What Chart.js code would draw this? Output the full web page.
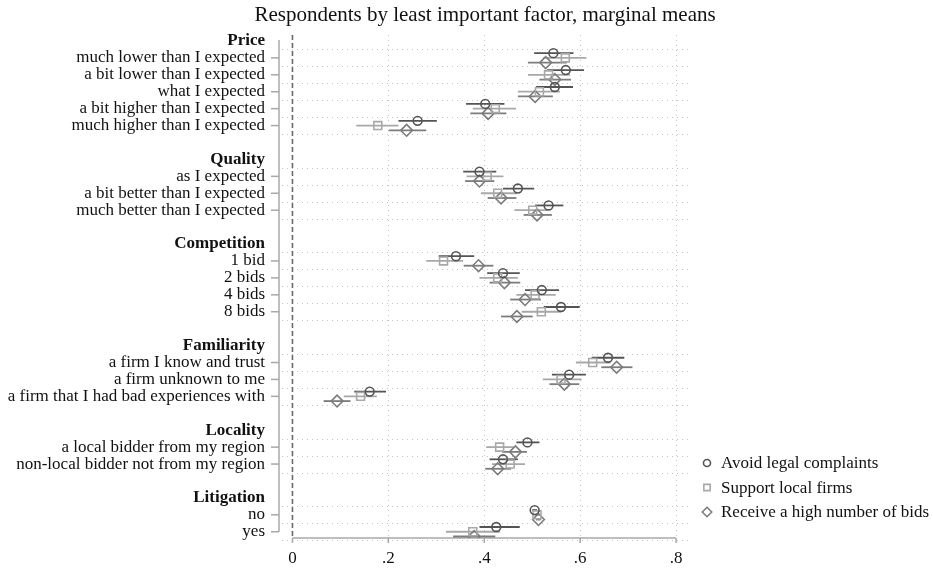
<!DOCTYPE html>
<html>
<head>
<meta charset="utf-8">
<script src="https://cdn.jsdelivr.net/npm/chart.js@4.4.1/dist/chart.umd.min.js"></script>
<style>
  html, body { margin: 0; padding: 0; background: #fff; }
  canvas { display: block; }
</style>
</head>
<body>
<canvas id="chart" width="933" height="568"></canvas>
<script>
// Groups (bold headers) and their levels, top to bottom
const groupNames = ['Price', 'Quality', 'Competition', 'Familiarity', 'Locality', 'Litigation'];
const groupLevels = [
    ['much lower than I expected', 'a bit lower than I expected', 'what I expected',
     'a bit higher than I expected', 'much higher than I expected'],
    ['as I expected', 'a bit better than I expected', 'much better than I expected'],
    ['1 bid', '2 bids', '4 bids', '8 bids'],
    ['a firm I know and trust', 'a firm unknown to me', 'a firm that I had bad experiences with'],
    ['a local bidder from my region', 'non-local bidder not from my region'],
    ['no', 'yes']
];

const seriesNames = ['Avoid legal complaints', 'Support local firms', 'Receive a high number of bids'];

// Marginal means and 95% CI bounds, one entry per level
const legalMean = [0.544, 0.570, 0.547, 0.402, 0.261, 0.390, 0.470, 0.534, 0.341, 0.439, 0.520, 0.560, 0.658, 0.577, 0.161, 0.490, 0.439, 0.505, 0.425];
const legalLo   = [0.504, 0.531, 0.508, 0.362, 0.221, 0.356, 0.439, 0.506, 0.305, 0.406, 0.485, 0.524, 0.624, 0.541, 0.129, 0.467, 0.411, 0.500, 0.390];
const legalHi   = [0.586, 0.608, 0.585, 0.442, 0.301, 0.425, 0.504, 0.565, 0.379, 0.474, 0.556, 0.599, 0.692, 0.612, 0.195, 0.515, 0.470, 0.510, 0.474];

const localMean = [0.569, 0.534, 0.515, 0.423, 0.178, 0.406, 0.428, 0.501, 0.315, 0.428, 0.506, 0.519, 0.626, 0.560, 0.142, 0.432, 0.454, 0.510, 0.376];
const localLo   = [0.523, 0.491, 0.470, 0.376, 0.133, 0.363, 0.393, 0.463, 0.279, 0.390, 0.467, 0.478, 0.591, 0.522, 0.107, 0.404, 0.416, 0.505, 0.320];
const localHi   = [0.613, 0.579, 0.558, 0.466, 0.221, 0.440, 0.468, 0.531, 0.356, 0.470, 0.549, 0.560, 0.663, 0.603, 0.176, 0.461, 0.485, 0.515, 0.433];

const bidsMean  = [0.528, 0.547, 0.506, 0.408, 0.238, 0.390, 0.435, 0.510, 0.388, 0.442, 0.485, 0.468, 0.676, 0.567, 0.093, 0.465, 0.428, 0.513, 0.379];
const bidsLo    = [0.491, 0.515, 0.470, 0.371, 0.201, 0.360, 0.407, 0.482, 0.357, 0.411, 0.454, 0.435, 0.644, 0.536, 0.065, 0.437, 0.402, 0.508, 0.335];
const bidsHi    = [0.572, 0.581, 0.543, 0.446, 0.279, 0.421, 0.467, 0.541, 0.419, 0.475, 0.518, 0.501, 0.709, 0.598, 0.121, 0.489, 0.456, 0.518, 0.423];

const xTicks = [0, 0.2, 0.4, 0.6, 0.8];

const FONT = '"Liberation Serif", "Times New Roman", serif';

// Build the row layout: header row, level rows, blank row between groups
const rowLabels = [];
const headerRows = new Set();
const levelRows = [];
const groupSpans = [];
let r = 0;
groupNames.forEach((name, g) => {
    if (g > 0) { rowLabels[r] = ''; r++; }
    rowLabels[r] = name;
    headerRows.add(r);
    r++;
    const first = r;
    groupLevels[g].forEach(level => {
        rowLabels[r] = level;
        levelRows.push(r);
        r++;
    });
    groupSpans.push([first, r - 1]);
});

const offsets = [-0.28, 0, 0.28];
const colors = ['#545454', '#a8a8a8', '#7c7c7c'];
const styles = ['circle', 'rect', 'rectRot'];
const radii = [4.4, 5.6, 5.9];

function makeDataset(i, mean, lo, hi) {
    return {
        label: seriesNames[i],
        data: mean.map((v, k) => ({ x: v, y: levelRows[k] + offsets[i] })),
        lo, hi,
        pointStyle: styles[i],
        pointRadius: radii[i],
        pointBorderWidth: 1.6,
        borderColor: colors[i],
        backgroundColor: 'rgba(0,0,0,0)',
        showLine: false
    };
}

const decorPlugin = {
    id: 'decor',
    beforeDatasetsDraw(chart) {
        const { ctx, chartArea: a, scales: { x, y } } = chart;
        ctx.save();

        // dotted grid: vertical at x ticks, horizontal between levels
        ctx.strokeStyle = '#c4c4c4';
        ctx.lineWidth = 1;
        ctx.setLineDash([1, 4]);
        xTicks.slice(1).forEach(t => {
            const px = Math.round(x.getPixelForValue(t)) + 0.5;
            ctx.beginPath();
            ctx.moveTo(px, a.top + 2);
            ctx.lineTo(px, a.bottom);
            ctx.stroke();
        });
        groupSpans.forEach(([f, l]) => {
            for (let v = f - 0.5; v <= l + 0.5; v++) {
                const py = Math.round(y.getPixelForValue(v)) + 0.5;
                ctx.beginPath();
                ctx.moveTo(a.left + 2, py);
                ctx.lineTo(a.right, py);
                ctx.stroke();
            }
        });

        // dashed reference line at 0
        ctx.strokeStyle = '#6a6a6a';
        ctx.lineWidth = 1.6;
        ctx.setLineDash([5, 3]);
        const x0 = x.getPixelForValue(0);
        ctx.beginPath();
        ctx.moveTo(x0, a.top + 2);
        ctx.lineTo(x0, a.bottom - 2);
        ctx.stroke();
        ctx.setLineDash([]);

        // left axis line and tick marks
        ctx.strokeStyle = '#a8a8a8';
        ctx.lineWidth = 1.5;
        const ax = a.left - 1;
        ctx.beginPath();
        ctx.moveTo(ax, y.getPixelForValue(0) - 1);
        ctx.lineTo(ax, y.getPixelForValue(rowLabels.length - 1));
        ctx.stroke();
        levelRows.forEach(row => {
            const py = y.getPixelForValue(row);
            ctx.beginPath();
            ctx.moveTo(ax - 8, py);
            ctx.lineTo(ax, py);
            ctx.stroke();
        });

        // bottom axis line and tick marks
        const by = a.bottom;
        ctx.beginPath();
        ctx.moveTo(x.getPixelForValue(xTicks[0]), by);
        ctx.lineTo(x.getPixelForValue(xTicks[xTicks.length - 1]), by);
        ctx.stroke();
        xTicks.forEach(t => {
            const px = x.getPixelForValue(t);
            ctx.beginPath();
            ctx.moveTo(px, by);
            ctx.lineTo(px, by + 5);
            ctx.stroke();
        });

        // confidence intervals
        chart.data.datasets.forEach(ds => {
            ctx.strokeStyle = ds.borderColor;
            ctx.lineWidth = 1.8;
            ds.data.forEach((pt, k) => {
                const py = y.getPixelForValue(pt.y);
                ctx.beginPath();
                ctx.moveTo(x.getPixelForValue(ds.lo[k]), py);
                ctx.lineTo(x.getPixelForValue(ds.hi[k]), py);
                ctx.stroke();
            });
        });
        ctx.restore();
    },
    afterDraw(chart) {
        const { ctx, chartArea: a } = chart;
        ctx.save();

        // title, centred over the plot region
        ctx.fillStyle = '#111';
        ctx.font = '21px ' + FONT;
        ctx.textAlign = 'center';
        ctx.textBaseline = 'middle';
        ctx.fillText('Respondents by least important factor, marginal means', (a.left + a.right) / 2, 15);

        // legend
        ctx.font = '17px ' + FONT;
        ctx.textAlign = 'left';
        chart.data.datasets.forEach((ds, i) => {
            const ly = 463 + i * 24.5;
            ctx.strokeStyle = ds.borderColor;
            ctx.fillStyle = '#ffffff';
            ctx.lineWidth = 1.6;
            Chart.helpers.drawPoint(ctx, { pointStyle: ds.pointStyle, radius: ds.pointRadius * 0.8, borderWidth: 1.6 }, 707, ly);
            ctx.fillStyle = '#111';
            ctx.fillText(ds.label, 721, ly + 1);
        });
        ctx.restore();
    }
};

new Chart(document.getElementById('chart'), {
    type: 'scatter',
    data: {
        datasets: [
            makeDataset(0, legalMean, legalLo, legalHi),
            makeDataset(1, localMean, localLo, localHi),
            makeDataset(2, bidsMean, bidsLo, bidsHi)
        ]
    },
    options: {
        responsive: false,
        animation: false,
        devicePixelRatio: 1,
        layout: { padding: { top: 33, right: 243, left: 0, bottom: 0 } },
        plugins: {
            legend: { display: false },
            title: { display: false },
            tooltip: { enabled: false }
        },
        scales: {
            x: {
                type: 'linear',
                min: -0.026,
                max: 0.829,
                grid: { display: false, drawTicks: false },
                border: { display: false },
                afterBuildTicks: scale => { scale.ticks = xTicks.map(v => ({ value: v })); },
                afterFit: scale => { scale.height = 30; },
                ticks: {
                    padding: 10,
                    color: '#111',
                    font: { family: FONT, size: 17 },
                    callback: v => v === 0 ? '0' : '.' + Math.round(v * 10)
                }
            },
            y: {
                type: 'linear',
                reverse: true,
                min: -0.47,
                max: 29.37,
                grid: { display: false, drawTicks: false },
                border: { display: false },
                afterBuildTicks: scale => { scale.ticks = rowLabels.map((_, i) => ({ value: i })); },
                afterFit: scale => { scale.width = 280; },
                ticks: {
                    autoSkip: false,
                    padding: 15,
                    color: '#111',
                    font: ctx => ({
                        family: FONT,
                        size: 17,
                        weight: headerRows.has(ctx.tick && ctx.tick.value) ? 'bold' : 'normal'
                    }),
                    callback: v => rowLabels[v] || ''
                }
            }
        }
    },
    plugins: [decorPlugin]
});
</script>
</body>
</html>
